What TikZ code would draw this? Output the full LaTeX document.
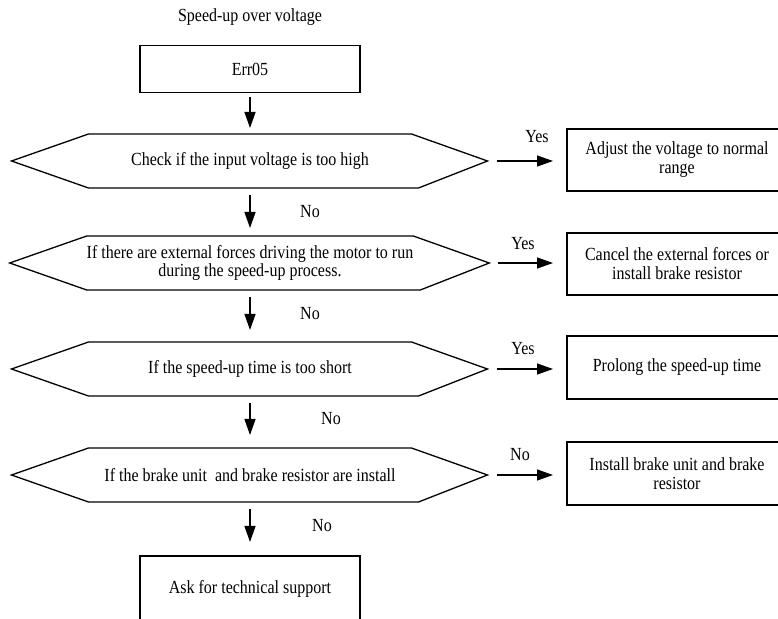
\documentclass[tikz,border=0pt]{standalone}
\usepackage{fontspec}
\setmainfont{Liberation Serif}[FakeStretch=0.865]
\usetikzlibrary{arrows.meta}
\begin{document}
\begin{tikzpicture}[x=1pt,y=1pt,
  every node/.style={font=\fontsize{18.5}{19}\selectfont,inner sep=0pt,outer sep=0pt},
  box/.style={draw=drawColor,line width=1.3pt,align=center},
  cond/.style={minimum width=323pt,minimum height=54pt,align=center},
  hexline/.style={draw=drawColor,line width=1.3pt},
  arr/.style={draw=drawColor,line width=1.3pt,-{Triangle[length=16pt,width=11pt]}}]
\definecolor{drawColor}{RGB}{0,0,0}
\path[use as bounding box] (0,0) rectangle (778,618);

\node (title) at (250,601) {Speed-up over voltage};
\node[box,minimum width=220pt,minimum height=47pt] (err) at (250,549) {Err05};

\node[cond] (c1) at (250,457) {Check if the input voltage is too high};
\node[cond,font=\fontsize{18.5}{16}\selectfont] (c2) at (250,355) {If there are external forces driving the motor to run\\during the speed-up process.};
\node[cond] (c3) at (250,249) {If the speed-up time is too short};
\node[cond] (c4) at (250,143) {If the brake unit \ and brake resistor are install};

\node[box,minimum width=220pt,minimum height=66pt] (ask) at (250,29) {Ask for technical support};

\node[box,minimum width=220pt,minimum height=62pt] (r1) at (677,458) {Adjust the voltage to normal\\range};
\node[box,minimum width=220pt,minimum height=62pt] (r2) at (677,354) {Cancel the external forces or\\install brake resistor};
\node[box,minimum width=220pt,minimum height=63pt] (r3) at (677,250.5) {Prolong the speed-up time};
\node[box,minimum width=220pt,minimum height=63pt] (r4) at (677,144.5) {Install brake unit and brake\\resistor};

\coordinate (c1tip) at ([xshift=76pt]c1.east);
\coordinate (c2tip) at ([xshift=76pt]c2.east);
\coordinate (c3tip) at ([xshift=76pt]c3.east);
\coordinate (c4tip) at ([xshift=76pt]c4.east);

\foreach \n in {c1,c2,c3,c4}
  \draw[hexline] ([xshift=-77pt]\n.west) -- (\n.north west) -- (\n.north east) -- (\n tip) -- ([xshift=7pt]\n.south east) -- (\n.south west) -- cycle;

\draw[arr,shorten <=5pt,shorten >=6pt] (err) -- (c1);
\draw[arr,shorten <=7pt,shorten >=8pt] (c1) -- (c2);
\draw[arr,shorten <=7pt,shorten >=12pt] (c2) -- (c3);
\draw[arr,shorten <=7pt,shorten >=13pt] (c3) -- (c4);
\draw[arr,shorten <=7pt,shorten >=14pt] (c4) -- (ask);

\draw[arr,shorten <=9pt,shorten >=14pt] (c1tip) -- (c1tip -| r1.west);
\draw[arr,shorten <=9pt,shorten >=14pt] (c2tip) -- (c2tip -| r2.west);
\draw[arr,shorten <=9pt,shorten >=14pt] (c3tip) -- (c3tip -| r3.west);
\draw[arr,shorten <=9pt,shorten >=14pt] (c4tip) -- (c4tip -| r4.west);

\node (no1) at (310,406) {No};
\node (no2) at (310,304) {No};
\node (no3) at (331,199) {No};
\node (no4) at (322,92) {No};
\node (yes1) at (537,481) {Yes};
\node (yes2) at (523,374) {Yes};
\node (yes3) at (523,269) {Yes};
\node (no5) at (520,163) {No};
\end{tikzpicture}
\end{document}
